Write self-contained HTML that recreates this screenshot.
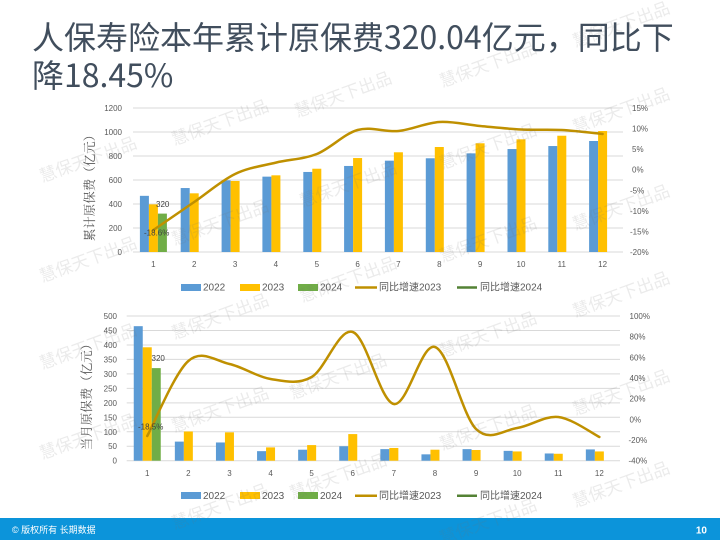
<!DOCTYPE html>
<html><head><meta charset="utf-8"><style>
html,body{margin:0;padding:0;background:#fff;}
body{width:720px;height:540px;position:relative;overflow:hidden;}
.title{position:absolute;left:32px;top:17px;font-family:"Noto Sans CJK SC","Liberation Sans",sans-serif;font-size:32px;line-height:38px;color:#414e5d;white-space:nowrap;}
svg{position:absolute;left:0;top:0;}
</style></head><body>
<div class="title">人保寿险本年累计原保费320.04亿元，同比下<br>降18.45%</div>
<svg width="720" height="540" viewBox="0 0 720 540" xmlns="http://www.w3.org/2000/svg">
<!-- ============ TOP CHART ============ -->
<g stroke="#d9d9d9" stroke-width="1">
<line x1="133" y1="108" x2="623" y2="108"/><line x1="133" y1="132" x2="623" y2="132"/>
<line x1="133" y1="156" x2="623" y2="156"/><line x1="133" y1="180" x2="623" y2="180"/>
<line x1="133" y1="204" x2="623" y2="204"/><line x1="133" y1="228" x2="623" y2="228"/>
<line x1="133" y1="252" x2="623" y2="252"/>
</g>
<g font-family="Liberation Sans, sans-serif" font-size="8" fill="#595959" text-anchor="end">
<text x="122" y="111">1200</text><text x="122" y="135">1000</text><text x="122" y="159">800</text>
<text x="122" y="183">600</text><text x="122" y="207">400</text><text x="122" y="231">200</text><text x="122" y="255">0</text>
</g>
<g font-family="Liberation Sans, sans-serif" font-size="8" fill="#595959">
<text x="632" y="111">15%</text><text x="632" y="131.6">10%</text><text x="632" y="152.1">5%</text>
<text x="632" y="172.7">0%</text><text x="630" y="193.3">-5%</text><text x="630" y="213.9">-10%</text>
<text x="630" y="234.4">-15%</text><text x="630" y="255">-20%</text>
</g>
<g font-family="Liberation Sans, sans-serif" font-size="8" fill="#595959" text-anchor="middle">
<text x="153.4" y="267">1</text><text x="194.2" y="267">2</text><text x="235.1" y="267">3</text>
<text x="275.9" y="267">4</text><text x="316.8" y="267">5</text><text x="357.6" y="267">6</text>
<text x="398.4" y="267">7</text><text x="439.3" y="267">8</text><text x="480.1" y="267">9</text>
<text x="521" y="267">10</text><text x="561.8" y="267">11</text><text x="602.6" y="267">12</text>
</g>
<text transform="translate(94,185) rotate(-90)" text-anchor="middle" font-family="Noto Serif CJK SC, serif" font-size="12.5" fill="#595959">累计原保费（亿元）</text>
<g fill="#5b9bd5">
<rect x="139.9" y="195.84" width="9" height="56.16"/><rect x="180.7" y="188.04" width="9" height="63.96"/>
<rect x="221.6" y="180.36" width="9" height="71.64"/><rect x="262.4" y="176.64" width="9" height="75.36"/>
<rect x="303.3" y="171.96" width="9" height="80.04"/><rect x="344.1" y="165.96" width="9" height="86.04"/>
<rect x="384.9" y="160.68" width="9" height="91.32"/><rect x="425.8" y="158.28" width="9" height="93.72"/>
<rect x="466.6" y="153.36" width="9" height="98.64"/><rect x="507.5" y="149.04" width="9" height="102.96"/>
<rect x="548.3" y="146.04" width="9" height="105.96"/><rect x="589.1" y="141" width="9" height="111"/>
</g>
<g fill="#ffc000">
<rect x="148.9" y="204.36" width="9" height="47.64"/><rect x="189.7" y="193.32" width="9" height="58.68"/>
<rect x="230.6" y="180.96" width="9" height="71.04"/><rect x="271.4" y="175.32" width="9" height="76.68"/>
<rect x="312.3" y="168.72" width="9" height="83.28"/><rect x="353.1" y="158.04" width="9" height="93.96"/>
<rect x="393.9" y="152.28" width="9" height="99.72"/><rect x="434.8" y="147" width="9" height="105"/>
<rect x="475.6" y="143.28" width="9" height="108.72"/><rect x="516.5" y="139.32" width="9" height="112.68"/>
<rect x="557.3" y="135.72" width="9" height="116.28"/><rect x="598.1" y="131.04" width="9" height="120.96"/>
</g>
<rect x="157.9" y="213.6" width="9" height="38.4" fill="#70ad47"/>
<path d="M153.4,230 C160.2,225.33 180.59,211.33 194.2,202 C207.81,192.67 221.49,180.57 235.1,174 C248.71,167.43 262.29,165.93 275.9,162.6 C289.51,159.27 303.19,159.43 316.8,154 C330.41,148.57 343.99,133.83 357.6,130 C371.21,126.17 384.79,132.33 398.4,131 C412.01,129.67 425.69,122.83 439.3,122 C452.91,121.17 466.49,124.75 480.1,126 C493.71,127.25 507.39,128.83 521,129.5 C534.61,130.17 548.19,129.25 561.8,130 C575.41,130.75 595.8,133.33 602.6,134" fill="none" stroke="#bf9000" stroke-width="2.5" stroke-linecap="round"/>
<g font-family="Liberation Sans, sans-serif" font-size="8" fill="#404040">
<text x="156" y="207">320</text>
<text x="144" y="235.5">-18.6%</text>
</g>
<!-- top legend -->
<g font-family="Liberation Sans, Noto Sans CJK SC, sans-serif" font-size="10" fill="#595959">
<rect x="181" y="284" width="20" height="7" fill="#5b9bd5"/><text x="203" y="290.5">2022</text>
<rect x="240" y="284" width="20" height="7" fill="#ffc000"/><text x="262" y="290.5">2023</text>
<rect x="298" y="284" width="20" height="7" fill="#70ad47"/><text x="320" y="290.5">2024</text>
<line x1="355" y1="287.5" x2="377" y2="287.5" stroke="#bf9000" stroke-width="2.5"/><text x="379" y="290.5">同比增速2023</text>
<line x1="457" y1="287.5" x2="477" y2="287.5" stroke="#548235" stroke-width="2.5"/><text x="480" y="290.5">同比增速2024</text>
</g>

<!-- ============ BOTTOM CHART ============ -->
<g stroke="#d9d9d9" stroke-width="1">
<line x1="126.7" y1="316" x2="620" y2="316"/><line x1="126.7" y1="330.47" x2="620" y2="330.47"/>
<line x1="126.7" y1="344.94" x2="620" y2="344.94"/><line x1="126.7" y1="359.41" x2="620" y2="359.41"/>
<line x1="126.7" y1="373.88" x2="620" y2="373.88"/><line x1="126.7" y1="388.35" x2="620" y2="388.35"/>
<line x1="126.7" y1="402.82" x2="620" y2="402.82"/><line x1="126.7" y1="417.29" x2="620" y2="417.29"/>
<line x1="126.7" y1="431.76" x2="620" y2="431.76"/><line x1="126.7" y1="446.23" x2="620" y2="446.23"/>
<line x1="126.7" y1="460.7" x2="620" y2="460.7"/>
</g>
<g font-family="Liberation Sans, sans-serif" font-size="8" fill="#595959" text-anchor="end">
<text x="117" y="319">500</text><text x="117" y="333.5">450</text><text x="117" y="347.9">400</text>
<text x="117" y="362.4">350</text><text x="117" y="376.9">300</text><text x="117" y="391.4">250</text>
<text x="117" y="405.8">200</text><text x="117" y="420.3">150</text><text x="117" y="434.8">100</text>
<text x="117" y="449.2">50</text><text x="117" y="463.7">0</text>
</g>
<g font-family="Liberation Sans, sans-serif" font-size="8" fill="#595959">
<text x="629.5" y="319">100%</text><text x="629.5" y="339.7">80%</text><text x="629.5" y="360.3">60%</text>
<text x="629.5" y="381">40%</text><text x="629.5" y="401.7">20%</text><text x="629.5" y="422.3">0%</text>
<text x="628.5" y="443">-20%</text><text x="628.5" y="463.7">-40%</text>
</g>
<g font-family="Liberation Sans, sans-serif" font-size="8" fill="#595959" text-anchor="middle">
<text x="147.25" y="476">1</text><text x="188.35" y="476">2</text><text x="229.45" y="476">3</text>
<text x="270.55" y="476">4</text><text x="311.65" y="476">5</text><text x="352.75" y="476">6</text>
<text x="393.85" y="476">7</text><text x="434.95" y="476">8</text><text x="476.05" y="476">9</text>
<text x="517.15" y="476">10</text><text x="558.25" y="476">11</text><text x="599.35" y="476">12</text>
</g>
<text transform="translate(91,394) rotate(-90)" text-anchor="middle" font-family="Noto Serif CJK SC, serif" font-size="12.5" fill="#595959">当月原保费（亿元）</text>
<g fill="#5b9bd5">
<rect x="133.75" y="326.18" width="9" height="134.52"/><rect x="174.85" y="441.61" width="9" height="19.09"/>
<rect x="215.95" y="442.47" width="9" height="18.23"/><rect x="257.05" y="451.15" width="9" height="9.55"/>
<rect x="298.15" y="449.71" width="9" height="10.99"/><rect x="339.25" y="446.23" width="9" height="14.47"/>
<rect x="380.35" y="449.13" width="9" height="11.57"/><rect x="421.45" y="454.34" width="9" height="6.36"/>
<rect x="462.55" y="449.13" width="9" height="11.57"/><rect x="503.65" y="450.86" width="9" height="9.84"/>
<rect x="544.75" y="453.47" width="9" height="7.23"/><rect x="585.85" y="449.42" width="9" height="11.28"/>
</g>
<g fill="#ffc000">
<rect x="142.75" y="347.29" width="9" height="113.41"/><rect x="183.85" y="431.48" width="9" height="29.22"/>
<rect x="224.95" y="432.35" width="9" height="28.35"/><rect x="266.05" y="447.39" width="9" height="13.31"/>
<rect x="307.15" y="445.08" width="9" height="15.62"/><rect x="348.25" y="434.08" width="9" height="26.62"/>
<rect x="389.35" y="447.97" width="9" height="12.73"/><rect x="430.45" y="449.71" width="9" height="10.99"/>
<rect x="471.55" y="450" width="9" height="10.7"/><rect x="512.65" y="451.44" width="9" height="9.26"/>
<rect x="553.75" y="453.76" width="9" height="6.94"/><rect x="594.85" y="451.44" width="9" height="9.26"/>
</g>
<rect x="151.75" y="368.12" width="9" height="92.58" fill="#70ad47"/>
<path d="M147.25,436 C154.1,423.5 174.65,373 188.35,361 C202.05,349 215.75,361 229.45,364 C243.15,367 256.85,376.83 270.55,379 C284.25,381.17 297.95,384.83 311.65,377 C325.35,369.17 339.05,327.5 352.75,332 C366.45,336.5 380.15,401.5 393.85,404 C407.55,406.5 421.25,342.83 434.95,347 C448.65,351.17 462.35,415.5 476.05,429 C489.75,442.5 503.45,430 517.15,428 C530.85,426 544.55,415.5 558.25,417 C571.95,418.5 592.5,433.67 599.35,437" fill="none" stroke="#bf9000" stroke-width="2.5" stroke-linecap="round"/>
<g font-family="Liberation Sans, sans-serif" font-size="8" fill="#404040">
<text x="151.5" y="361">320</text>
<text x="138" y="429.5">-18.5%</text>
</g>
<!-- bottom legend -->
<g font-family="Liberation Sans, Noto Sans CJK SC, sans-serif" font-size="10" fill="#595959">
<rect x="181" y="492" width="20" height="7" fill="#5b9bd5"/><text x="203" y="499">2022</text>
<rect x="240" y="492" width="20" height="7" fill="#ffc000"/><text x="262" y="499">2023</text>
<rect x="298" y="492" width="20" height="7" fill="#70ad47"/><text x="320" y="499">2024</text>
<line x1="355" y1="495.7" x2="377" y2="495.7" stroke="#bf9000" stroke-width="2.5"/><text x="379" y="499">同比增速2023</text>
<line x1="457" y1="495.7" x2="477" y2="495.7" stroke="#548235" stroke-width="2.5"/><text x="480" y="499">同比增速2024</text>
</g>

<!-- footer -->
<rect x="0" y="518" width="720" height="22" fill="#0c94da"/>
<text x="12" y="533" font-family="Liberation Sans, Noto Sans CJK SC, sans-serif" font-size="9" fill="#ffffff">© 版权所有 长期数据</text>
<text x="707" y="533.5" text-anchor="end" font-family="Liberation Sans, sans-serif" font-size="10" font-weight="bold" fill="#ffffff">10</text>

<!-- watermarks -->
<g font-family="Noto Sans CJK SC, sans-serif" font-size="17" fill="rgba(110,110,110,0.14)" text-anchor="middle">
<text x="90" y="165" transform="rotate(-20 90 165)">慧保天下出品</text>
<text x="90" y="265" transform="rotate(-20 90 265)">慧保天下出品</text>
<text x="90" y="352" transform="rotate(-20 90 352)">慧保天下出品</text>
<text x="90" y="442" transform="rotate(-20 90 442)">慧保天下出品</text>
<text x="222" y="128" transform="rotate(-20 222 128)">慧保天下出品</text>
<text x="222" y="228" transform="rotate(-20 222 228)">慧保天下出品</text>
<text x="222" y="322" transform="rotate(-20 222 322)">慧保天下出品</text>
<text x="222" y="415" transform="rotate(-20 222 415)">慧保天下出品</text>
<text x="222" y="512" transform="rotate(-20 222 512)">慧保天下出品</text>
<text x="345" y="100" transform="rotate(-20 345 100)">慧保天下出品</text>
<text x="350" y="190" transform="rotate(-20 350 190)">慧保天下出品</text>
<text x="350" y="285" transform="rotate(-20 350 285)">慧保天下出品</text>
<text x="340" y="382" transform="rotate(-20 340 382)">慧保天下出品</text>
<text x="340" y="482" transform="rotate(-20 340 482)">慧保天下出品</text>
<text x="490" y="70" transform="rotate(-20 490 70)">慧保天下出品</text>
<text x="490" y="152" transform="rotate(-20 490 152)">慧保天下出品</text>
<text x="490" y="245" transform="rotate(-20 490 245)">慧保天下出品</text>
<text x="490" y="340" transform="rotate(-20 490 340)">慧保天下出品</text>
<text x="490" y="433" transform="rotate(-20 490 433)">慧保天下出品</text>
<text x="490" y="527" transform="rotate(-20 490 527)">慧保天下出品</text>
<text x="623" y="30" transform="rotate(-20 623 30)">慧保天下出品</text>
<text x="623" y="116" transform="rotate(-20 623 116)">慧保天下出品</text>
<text x="623" y="213" transform="rotate(-20 623 213)">慧保天下出品</text>
<text x="623" y="300" transform="rotate(-20 623 300)">慧保天下出品</text>
<text x="623" y="398" transform="rotate(-20 623 398)">慧保天下出品</text>
<text x="623" y="490" transform="rotate(-20 623 490)">慧保天下出品</text>
</g>
</svg>
</body></html>
